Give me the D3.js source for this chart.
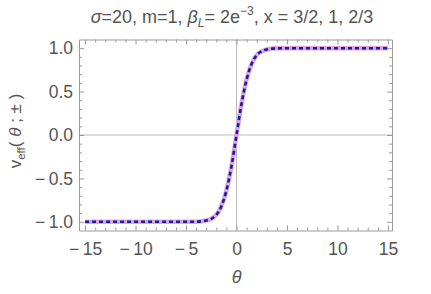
<!DOCTYPE html>
<html><head><meta charset="utf-8">
<script src="https://cdn.jsdelivr.net/npm/d3@7"></script>
<style>body{margin:0;background:#fff}svg{display:block}text{font-family:"Liberation Sans",Arial,sans-serif;fill:#555}</style>
</head><body><svg id="c" width="431" height="294"></svg>
<script>
const thetas = [-15,-6,-4,-3,-2.5,-2,-1.5,-1,-0.5,0,0.5,1,1.5,2,2.5,3,4,6,15];
const vPlus  = [-1,-1,-0.998,-0.985,-0.965,-0.92,-0.82,-0.64,-0.36,0,0.36,0.64,0.82,0.92,0.965,0.985,0.998,1,1];
const vMinus = [-1,-1,-0.998,-0.985,-0.965,-0.92,-0.82,-0.64,-0.36,0,0.36,0.64,0.82,0.92,0.965,0.985,0.998,1,1];
const xTicks = [-15,-10,-5,0,5,10,15];
const yTicks = [-1.0,-0.5,0.0,0.5,1.0];

const svg = d3.select("#c");
const L=79,R=392,T=39.5,B=230.5;
const x = d3.scaleLinear().domain([-15.6,15.4]).range([L,R]);
const y = d3.scaleLinear().domain([-1.1,1.1]).range([B,T]);
const gray="#9a9a9a";

// zero lines
svg.append("line").attr("x1",x(0)).attr("x2",x(0)).attr("y1",T).attr("y2",B).attr("stroke","#bbb").attr("stroke-width",1);
svg.append("line").attr("x1",L).attr("x2",R).attr("y1",y(0)).attr("y2",y(0)).attr("stroke","#bbb").attr("stroke-width",1);

// curves
const line = d3.line().x((d,i)=>x(thetas[i])).y(d=>y(d)).curve(d3.curveMonotoneX);
svg.append("path").datum(vPlus).attr("d",line).attr("fill","none").attr("stroke","#dea6d6").attr("stroke-width",4.5);
svg.append("path").datum(vMinus).attr("d",line).attr("fill","none").attr("stroke","#1a1aa8").attr("stroke-width",2.6).attr("stroke-dasharray","4,3");

// frame with ticks
const minorX = d3.range(-15,16,1).filter(v=>v%5!==0);
const minorY = d3.range(-1.0,1.01,0.1).map(v=>+v.toFixed(2)).filter(v=>Math.abs((v*10)%5)>0.01);
function frameAxis(axisGen, tr, majors, minors, scale, labels){
  const g = svg.append("g").attr("transform",tr);
  g.call(axisGen(scale).tickValues(majors).tickSizeInner(-5).tickSizeOuter(0).tickFormat(labels?labels:""));
  g.append("g").call(axisGen(scale).tickValues(minors).tickSizeInner(-3).tickSizeOuter(0).tickFormat(""))
   .select(".domain").remove();
  g.selectAll("line").attr("stroke",gray);
  g.selectAll(".domain").attr("stroke",gray);
  return g;
}
const fmtX = d=> d<0? "\u2212\u2009"+(-d) : ""+d;
const fmtY = d=> d<0? "\u2212\u2009"+(-d).toFixed(1) : d.toFixed(1);
const gb = frameAxis(d3.axisBottom,`translate(0,${B})`,xTicks,minorX,x,fmtX);
gb.selectAll("text").attr("font-size",17.5).attr("dy",null).attr("y",24.5).style("fill","#555");
const gt = frameAxis(d3.axisTop,`translate(0,${T})`,xTicks,minorX,x,null);
const gl = frameAxis(d3.axisLeft,`translate(${L},0)`,yTicks,minorY,y,fmtY);
gl.selectAll("text").attr("font-size",17.5).attr("x",-6).style("fill","#555");
const gr = frameAxis(d3.axisRight,`translate(${R},0)`,yTicks,minorY,y,null);
svg.selectAll(".domain").attr("stroke",gray);

// title
const t = svg.append("text").attr("x",232).attr("y",23).attr("text-anchor","middle").attr("font-size",18);
t.append("tspan").attr("font-style","italic").text("σ");
t.append("tspan").text("=20, m=1, ");
t.append("tspan").attr("font-style","italic").text("β");
t.append("tspan").attr("font-style","italic").attr("font-size",12).attr("dy",4).text("L");
t.append("tspan").attr("dy",-4).text("= 2e");
t.append("tspan").attr("font-size",12).attr("dy",-8).text("\u22123");
t.append("tspan").attr("dy",8).text(", x = 3/2, 1, 2/3");

// x label
svg.append("text").attr("x",x(0)).attr("y",283).attr("text-anchor","middle").attr("font-size",18).attr("font-style","italic").text("θ");

// y label
const yl = svg.append("text").attr("transform","translate(21,131) rotate(-90)").attr("text-anchor","middle").attr("font-size",17);
yl.append("tspan").text("v");
yl.append("tspan").attr("font-size",11.5).attr("dy",4).text("eff");
yl.append("tspan").attr("dy",-4).text("( ");
yl.append("tspan").attr("font-style","italic").text("θ");
yl.append("tspan").text(" ; ± )");
</script></body></html>
